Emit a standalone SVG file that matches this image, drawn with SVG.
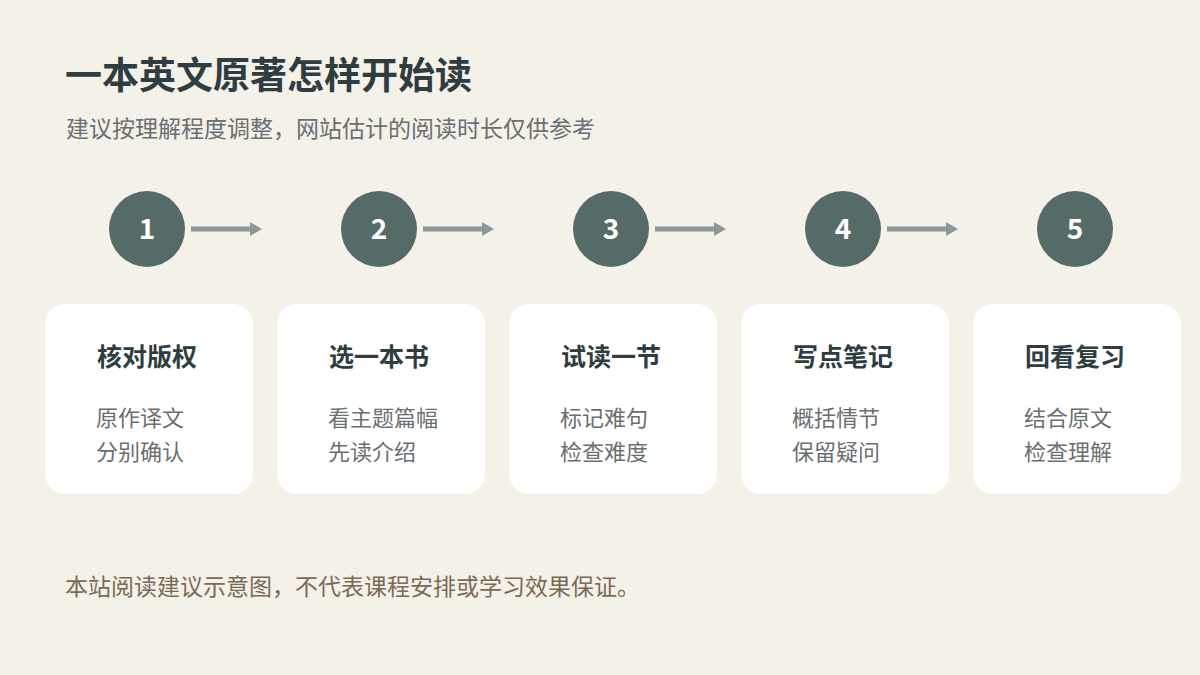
<svg xmlns="http://www.w3.org/2000/svg" width="1200" height="675" viewBox="0 0 1200 675">
<defs>
<marker id="ah" markerWidth="14" markerHeight="16" refX="1" refY="7" orient="auto" markerUnits="userSpaceOnUse"><path d="M0,0 L12,7 L0,14 Z" fill="#8a9896"/></marker>
<style>
text{font-family:"Noto Sans CJK SC","Noto Sans",sans-serif}
.c{fill:#556b67}
.n{fill:#fff;font-size:28px;font-weight:bold;text-anchor:middle}
.card{fill:#fff}
.t{fill:#2f3d40;font-size:25px;font-weight:bold;text-anchor:middle}
.d{fill:#6a6f70;font-size:22px}
.a{stroke:#8a9896;stroke-width:5;fill:none;marker-end:url(#ah)}
</style>
</defs>
<rect width="1200" height="675" fill="#f4f1e9"/>
<text x="65" y="89" font-size="37" font-weight="bold" fill="#2f3d40">一本英文原著怎样开始读</text>
<text x="66" y="137" font-size="23" fill="#6a6f70">建议按理解程度调整，网站估计的阅读时长仅供参考</text>
<g id="connectors">
<line class="a" x1="191" y1="229" x2="251" y2="229"/>
<line class="a" x1="423" y1="229" x2="483" y2="229"/>
<line class="a" x1="655" y1="229" x2="715" y2="229"/>
<line class="a" x1="887" y1="229" x2="947" y2="229"/>
</g>
<g id="step1"><circle class="c" cx="147" cy="229" r="38"/><text class="n" x="147" y="239">1</text><rect class="card" x="45" y="304" width="208" height="190" rx="20"/><text class="t" x="147" y="366">核对版权</text><text class="d" x="96" y="426">原作译文</text><text class="d" x="96" y="460">分别确认</text></g>
<g id="step2"><circle class="c" cx="379" cy="229" r="38"/><text class="n" x="379" y="239">2</text><rect class="card" x="277" y="304" width="208" height="190" rx="20"/><text class="t" x="379" y="366">选一本书</text><text class="d" x="328" y="426">看主题篇幅</text><text class="d" x="328" y="460">先读介绍</text></g>
<g id="step3"><circle class="c" cx="611" cy="229" r="38"/><text class="n" x="611" y="239">3</text><rect class="card" x="509" y="304" width="208" height="190" rx="20"/><text class="t" x="611" y="366">试读一节</text><text class="d" x="560" y="426">标记难句</text><text class="d" x="560" y="460">检查难度</text></g>
<g id="step4"><circle class="c" cx="843" cy="229" r="38"/><text class="n" x="843" y="239">4</text><rect class="card" x="741" y="304" width="208" height="190" rx="20"/><text class="t" x="843" y="366">写点笔记</text><text class="d" x="792" y="426">概括情节</text><text class="d" x="792" y="460">保留疑问</text></g>
<g id="step5"><circle class="c" cx="1075" cy="229" r="38"/><text class="n" x="1075" y="239">5</text><rect class="card" x="973" y="304" width="208" height="190" rx="20"/><text class="t" x="1075" y="366">回看复习</text><text class="d" x="1024" y="426">结合原文</text><text class="d" x="1024" y="460">检查理解</text></g>
<text x="65" y="595" font-size="23" fill="#7a6a55">本站阅读建议示意图，不代表课程安排或学习效果保证。</text>
</svg>
